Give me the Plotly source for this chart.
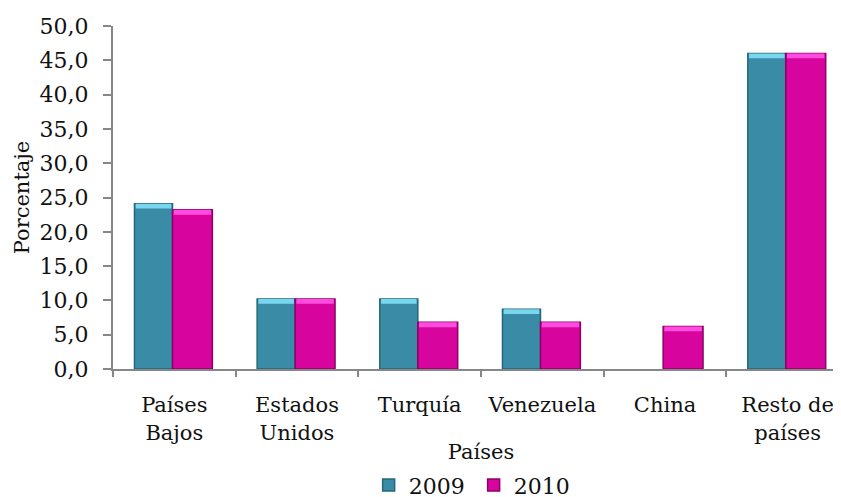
import plotly.graph_objects as go

# Data
paises = ["Países<br>Bajos", "Estados<br>Unidos", "Turquía", "Venezuela", "China", "Resto de<br>países"]
valores_2009 = [24.1, 10.2, 10.2, 8.7, None, 46.0]
valores_2010 = [23.2, 10.2, 6.8, 6.8, 6.2, 46.0]

TEAL = "#3a8ca6"
TEAL_DARK = "#25667a"
TEAL_LIGHT = "#78d6ef"
MAGENTA = "#d8049e"
MAGENTA_DARK = "#8e0068"
MAGENTA_LIGHT = "#ff4ce0"

FONT = "DejaVu Serif"
CAP = 0.7  # height of the lighter bevel on top of each bar

fig = go.Figure()

# main bars
fig.add_trace(go.Bar(
    x=paises, y=valores_2009, name="2009",
    offset=-0.325, width=0.31,
    marker=dict(color=TEAL, line=dict(color=TEAL_DARK, width=1.5)),
))
fig.add_trace(go.Bar(
    x=paises, y=valores_2010, name="2010",
    offset=-0.015, width=0.325,
    marker=dict(color=MAGENTA, line=dict(color=MAGENTA_DARK, width=1.5)),
))

# light bevel on the top of each bar
fig.add_trace(go.Bar(
    x=paises, y=[CAP if v is not None else None for v in valores_2009],
    base=[v - CAP if v is not None else None for v in valores_2009],
    offset=-0.315, width=0.29, showlegend=False, hoverinfo="skip",
    marker=dict(color=TEAL_LIGHT, line=dict(width=0)),
))
fig.add_trace(go.Bar(
    x=paises, y=[CAP for v in valores_2010],
    base=[v - CAP for v in valores_2010],
    offset=-0.005, width=0.305, showlegend=False, hoverinfo="skip",
    marker=dict(color=MAGENTA_LIGHT, line=dict(width=0)),
))

# the page body adds 8px around the figure, margins are shifted to compensate
fig.update_layout(
    width=841, height=497,
    barmode="overlay",
    plot_bgcolor="white", paper_bgcolor="white",
    margin=dict(l=105, r=0, t=18, b=136),
    separators=", ",
    font=dict(family=FONT, size=21, color="#111111"),
    showlegend=True,
    legend=dict(
        orientation="h", x=0.49, xanchor="center",
        yref="container", y=0.04, yanchor="middle",
        font=dict(family=FONT, size=22), itemwidth=30, tracegroupgap=0,
        entrywidth=60,
    ),
)

fig.update_xaxes(
    range=[-0.5, 5.5], automargin=False,
    showline=True, linecolor="#878787", linewidth=2,
    ticks="outside", tickson="boundaries", ticklen=6, tickcolor="#878787", tickwidth=2,
    tickfont=dict(family=FONT, size=21),
    ticklabelstandoff=16,
    title=dict(text="Países", font=dict(family=FONT, size=21), standoff=2),
    showgrid=False,
)
fig.update_yaxes(
    range=[0, 50], dtick=5, tickformat=".1f", automargin=False,
    showline=True, linecolor="#878787", linewidth=2,
    ticks="outside", ticklen=8, tickcolor="#878787", tickwidth=2,
    tickfont=dict(family=FONT, size=22),
    ticklabelstandoff=10,
    title=dict(text="Porcentaje", font=dict(family=FONT, size=21), standoff=4),
    showgrid=False, zeroline=False,
)

fig.write_html("out.html")
